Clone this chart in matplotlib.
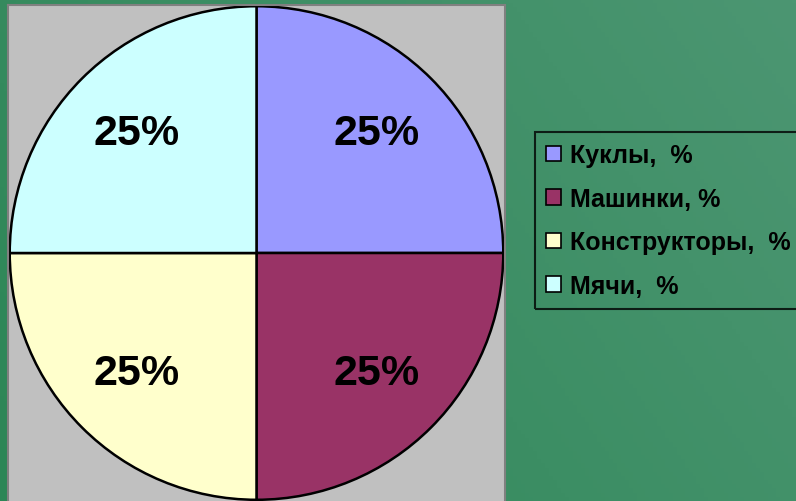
import matplotlib
matplotlib.use("Agg")
import matplotlib.pyplot as plt
import numpy as np
from matplotlib.patches import Patch

categories = ["Куклы,  %", "Машинки, %", "Конструкторы,  %", "Мячи,  %"]
values = [25, 25, 25, 25]
colors = ["#9999FF", "#993366", "#FFFFCC", "#CCFFFF"]

W, H = 796, 502
fig = plt.figure(figsize=(W / 100, H / 100), dpi=100)

# background gradient
bg = fig.add_axes([0, 0, 1, 1])
bg.set_axis_off()
x = np.linspace(0, 1, 200)
y = np.linspace(0, 1, 120)
X, Y = np.meshgrid(x, y)
t = np.clip(0.7 * X + 0.3 * (1 - Y), 0, 1)
c1 = np.array([0x2c, 0x86, 0x56]) / 255
c2 = np.array([0x4c, 0x96, 0x72]) / 255
img = c1[None, None, :] * (1 - t[..., None]) + c2[None, None, :] * t[..., None]
bg.imshow(img, aspect="auto", extent=[0, 1, 0, 1], origin="upper")

ax = fig.add_axes([8 / W, -3 / H, 497 / W, 499 / H])

wedges, texts, autotexts = ax.pie(
    values, colors=colors, startangle=90, counterclock=False,
    autopct="%d%%", pctdistance=0.69, radius=0.995,
    wedgeprops=dict(edgecolor="black", linewidth=1.8),
    textprops=dict(fontsize=31, fontweight="bold", family="Liberation Sans", color="black"),
)
ax.set_frame_on(True)
ax.set_facecolor("#C0C0C0")
for s in ax.spines.values():
    s.set_edgecolor("#808080")
    s.set_linewidth(1.5)
ax.set_xticks([])
ax.set_yticks([])
ax.set_xlim(-1.002, 1.002)
ax.set_ylim(-1.012, 1)
ax.set_aspect("auto")

handles = [Patch(facecolor=c, edgecolor="black", linewidth=1.2) for c in colors]
leg = fig.legend(handles, categories, loc="upper left",
                 bbox_to_anchor=(535 / W, 1 - 133 / H),
                 prop=dict(family="Liberation Sans", weight="bold", size=18),
                 frameon=True, fancybox=False, handlelength=0.6, handleheight=0.6,
                 handletextpad=0.35, labelspacing=0.78, borderpad=0.45, borderaxespad=0)
fr = leg.get_frame()
fr.set_facecolor("none")
fr.set_edgecolor("black")
fr.set_linewidth(1.5)

fig.savefig("out.png", dpi=100)
